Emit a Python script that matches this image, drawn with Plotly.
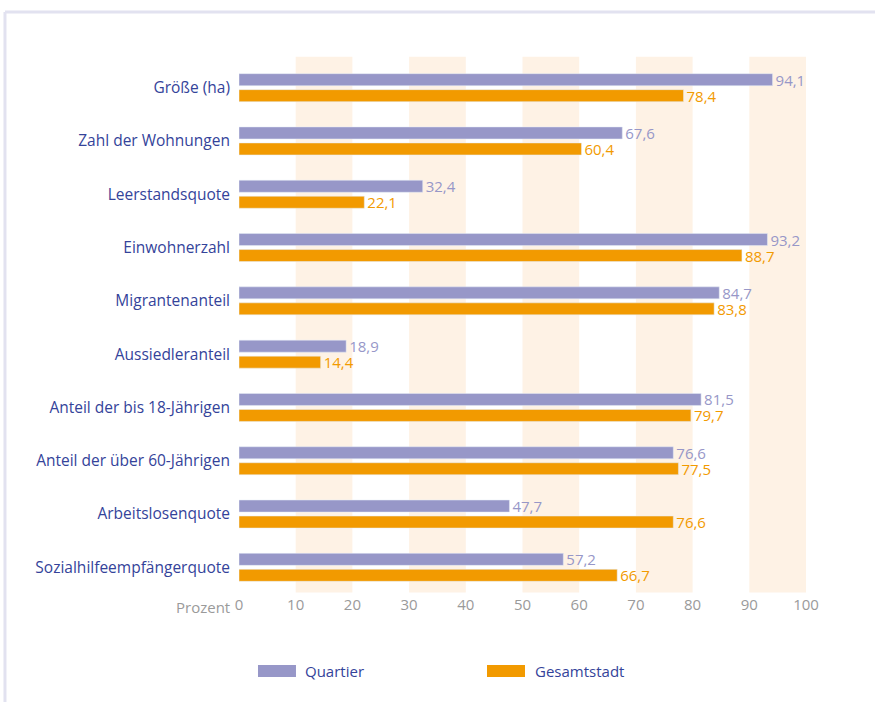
import plotly.graph_objects as go

categories = ["Größe (ha)", "Zahl der Wohnungen", "Leerstandsquote", "Einwohnerzahl",
              "Migrantenanteil", "Aussiedleranteil", "Anteil der bis 18-Jährigen",
              "Anteil der über 60-Jährigen", "Arbeitslosenquote", "Sozialhilfeempfängerquote"]
quartier = [94.1, 67.6, 32.4, 93.2, 84.7, 18.9, 81.5, 76.6, 47.7, 57.2]
gesamtstadt = [78.4, 60.4, 22.1, 88.7, 83.8, 14.4, 79.7, 77.5, 76.6, 66.7]
tick_vals = [0, 10, 20, 30, 40, 50, 60, 70, 80, 90, 100]
band_starts = [10, 30, 50, 70, 90]

C_Q = "#9797C8"
C_G = "#F29A00"
C_TXT = "#34439A"
C_GREY = "#9A9A9A"
FONT = "Open Sans"

def fmt(v):
    return f"{v:.1f}".replace(".", ",")

fig = go.Figure()
fig.add_trace(go.Bar(y=categories, x=quartier, orientation="h", name="Quartier",
                     marker_color=C_Q, text=[fmt(v) for v in quartier],
                     textposition="outside", cliponaxis=False, constraintext="none",
                     textfont=dict(color=C_Q, size=15, family=FONT)))
fig.add_trace(go.Bar(y=categories, x=gesamtstadt, orientation="h", name="Gesamtstadt",
                     marker_color=C_G, text=[fmt(v) for v in gesamtstadt],
                     textposition="outside", cliponaxis=False, constraintext="none",
                     textfont=dict(color=C_G, size=15, family=FONT)))

shapes = []
for b in band_starts:
    shapes.append(dict(type="rect", xref="x", yref="paper", x0=b, x1=b + 10, y0=0.003, y1=1.008,
                       fillcolor="#FEF2E5", line_width=0, layer="below"))
# frame lines
shapes.append(dict(type="line", xref="paper", yref="paper", x0=-0.4127, x1=1.13, y0=1.0919, y1=1.0919,
                   line=dict(color="#E2E2F0", width=3)))
shapes.append(dict(type="line", xref="paper", yref="paper", x0=-0.4127, x1=-0.4127, y0=1.0919, y1=-0.21,
                   line=dict(color="#E2E2F0", width=3)))
# legend swatches
shapes.append(dict(type="rect", xref="paper", yref="paper", x0=0.0335, x1=0.1005, y0=-0.1557, y1=-0.1332,
                   fillcolor=C_Q, line_width=0))
shapes.append(dict(type="rect", xref="paper", yref="paper", x0=0.4374, x1=0.5044, y0=-0.1557, y1=-0.1332,
                   fillcolor=C_G, line_width=0))

annotations = [
    dict(text="Prozent", xref="paper", yref="paper", x=-0.012, y=-0.025, xanchor="right", yanchor="middle",
         showarrow=False, font=dict(color=C_GREY, size=15, family=FONT)),
    dict(text="Quartier", xref="paper", yref="paper", x=0.1129, y=-0.1445, xanchor="left", yanchor="middle",
         showarrow=False, font=dict(color=C_TXT, size=15, family=FONT)),
    dict(text="Gesamtstadt", xref="paper", yref="paper", x=0.5185, y=-0.1445, xanchor="left", yanchor="middle",
         showarrow=False, font=dict(color=C_TXT, size=15, family=FONT)),
]

fig.update_layout(
    width=875, height=702,
    margin=dict(l=239, r=69, t=61, b=108),
    paper_bgcolor="white", plot_bgcolor="rgba(0,0,0,0)",
    barmode="group", bargap=0.4, bargroupgap=0.25,
    showlegend=False,
    shapes=shapes, annotations=annotations,
    font=dict(family=FONT),
    xaxis=dict(range=[0, 100], tickvals=tick_vals, showgrid=False, zeroline=False,
               showline=False, ticks="", tickfont=dict(color=C_GREY, size=15, family=FONT)),
    yaxis=dict(autorange="reversed", showgrid=False, showline=False, ticks="",
               ticklabelstandoff=8, tickfont=dict(color=C_TXT, size=15.5, family=FONT)),
)

fig.write_html("out.html")
